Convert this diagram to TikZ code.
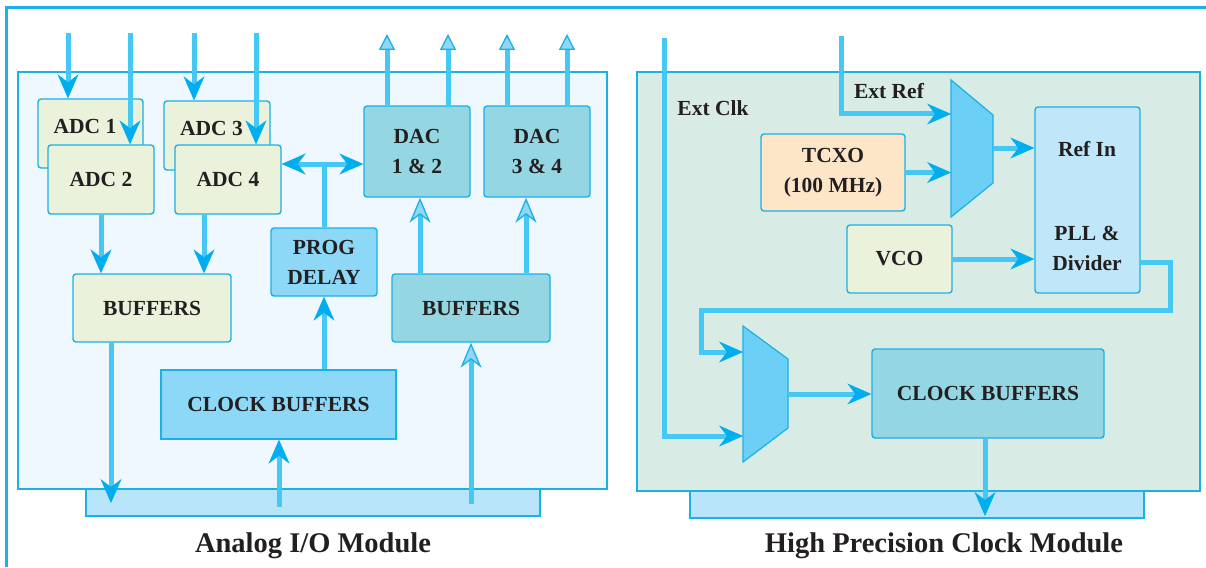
\documentclass[tikz,border=0pt]{standalone}
\usepackage{fontspec}
\setmainfont{Liberation Serif}
\usetikzlibrary{arrows.meta}

\definecolor{linecyan}{HTML}{45C8F3}
\definecolor{headcyan}{HTML}{00AEEF}
\definecolor{edgecyan}{HTML}{1BB0E8}
\definecolor{panelblue}{HTML}{EFF8FE}
\definecolor{panelgreen}{HTML}{D8ECE5}
\definecolor{busblue}{HTML}{B8E5F9}
\definecolor{adcgreen}{HTML}{EBF2DC}
\definecolor{dacteal}{HTML}{94D7E3}
\definecolor{clkblue}{HTML}{8DD8F6}
\definecolor{pllblue}{HTML}{BFE7F9}
\definecolor{tcxopeach}{HTML}{FDE5C7}
\definecolor{muxblue}{HTML}{6CCFF6}
\definecolor{openhead}{HTML}{8ED8F6}
\definecolor{inkdark}{HTML}{231F20}

\newcommand{\boxfont}{\fontsize{21.5}{30}\selectfont\bfseries}
\newcommand{\titlefont}{\fontsize{28.5}{30}\selectfont\bfseries}

\tikzset{
  blk/.style={draw=edgecyan, line width=1.4pt, rounded corners=3pt, text=inkdark,
    font=\boxfont, align=center, inner sep=0pt},
  panel/.style={draw=edgecyan, line width=1.4pt, inner sep=0pt},
  txt/.style={text=inkdark, font=\boxfont, align=center, inner sep=0pt},
  sig/.style={draw=linecyan, line width=5pt},
  sigarrow/.style={sig, -{Stealth[length=24pt, width=21pt, inset=8pt, line width=0.5pt, color=headcyan]}},
  sigboth/.style={sig, {Stealth[length=24pt, width=21pt, inset=8pt, line width=0.5pt, color=headcyan]}-{Stealth[length=24pt, width=21pt, inset=8pt, line width=0.5pt, color=headcyan]}},
  sigopen/.style={sig, -{Stealth[length=25pt, width=21pt, inset=8pt, line width=1.3pt, color=edgecyan, fill=openhead]}},
  sigout/.style={sig, -{Triangle[length=16pt, width=16pt, line width=1.3pt, color=edgecyan, fill=openhead]}},
  muxshape/.style={draw=edgecyan, line width=1.2pt, fill=muxblue},
}

\begin{document}
\begin{tikzpicture}[x=1pt, y=-1pt]
\useasboundingbox (0,0) rectangle (1206,567);

\draw[edgecyan, line width=3pt] (1206,8) -- (6,8) -- (6,567);

% Analog I/O module
\node[panel, fill=busblue, minimum width=454, minimum height=27] (busl) at (313,502.5) {};
\node[panel, fill=panelblue, minimum width=589, minimum height=417] (panl) at (312.5,280.5) {};

\node[blk, fill=adcgreen, minimum width=105, minimum height=69] (adc1) at (90.5,133.5) {};
\node[txt] (adc1t) at (85,126.5) {ADC 1};
\node[blk, fill=adcgreen, minimum width=106, minimum height=69] (adc3) at (217,135.5) {};
\node[txt] (adc3t) at (211.5,128) {ADC 3};

\coordinate (in1) at (68,33);
\coordinate (in2) at (130,33);
\coordinate (in3) at (194,33);
\coordinate (in4) at (256,33);
\draw[sigarrow] (in1) -- (in1 |- adc1.north);
\draw[sigarrow] (in3) -- (in3 |- adc3.north);

\node[blk, fill=adcgreen, minimum width=106, minimum height=69] (adc2) at (101,179.5) {ADC 2};
\node[blk, fill=adcgreen, minimum width=106, minimum height=69] (adc4) at (228,179.5) {ADC 4};

\draw[sigarrow] (in2) -- (in2 |- adc2.north);
\draw[sigarrow] (in4) -- (in4 |- adc4.north);

\node[blk, fill=dacteal, minimum width=106, minimum height=91] (dac12) at (417,151.5) {DAC\\1 \& 2};
\node[blk, fill=dacteal, minimum width=106, minimum height=91] (dac34) at (537,151.5) {DAC\\3 \& 4};
\node[blk, fill=clkblue, minimum width=106, minimum height=68] (prog) at (324,262) {PROG\\DELAY};
\node[blk, fill=adcgreen, minimum width=158, minimum height=68] (bufl) at (152,308) {BUFFERS};
\node[blk, fill=dacteal, minimum width=158, minimum height=68] (bufr) at (471,308) {BUFFERS};
\node[blk, fill=clkblue, rounded corners=0pt, minimum width=235, minimum height=69] (cbl) at (278.5,404.5) {CLOCK BUFFERS};

\coordinate (out1) at (387,34);
\coordinate (out2) at (448,34);
\coordinate (out3) at (507,34);
\coordinate (out4) at (567,34);
\draw[sigout] (out1 |- dac12.north) -- (out1);
\draw[sigout] (out2 |- dac12.north) -- (out2);
\draw[sigout] (out3 |- dac34.north) -- (out3);
\draw[sigout] (out4 |- dac34.north) -- (out4);

\coordinate (tee) at (324,164);
\draw[sigboth] (tee -| adc4.east) -- (tee -| dac12.west);
\draw[sig] (tee) -- (prog.north);

\coordinate (adc4out) at ([xshift=-24pt]adc4.south);
\draw[sigarrow] (adc2.south) -- (adc2.south |- bufl.north);
\draw[sigarrow] (adc4out) -- (adc4out |- bufl.north);

\coordinate (tap1) at (111,503);
\coordinate (tap2) at (279,507);
\coordinate (tap3) at (471,504);
\draw[sigarrow] (tap1 |- bufl.south) -- (tap1);
\draw[sigarrow] (tap2) -- (tap2 |- cbl.south);
\draw[sigarrow] (prog.south |- cbl.north) -- (prog.south);
\draw[sigopen] (tap3) -- (bufr.south);

\coordinate (dacin1) at ([xshift=3pt]dac12.south);
\coordinate (dacin2) at ([xshift=-11pt]dac34.south);
\draw[sigopen] (dacin1 |- bufr.north) -- (dacin1);
\draw[sigopen] (dacin2 |- bufr.north) -- (dacin2);

\node[font=\titlefont, text=inkdark, anchor=base] (ttlleft) at (313,552) {Analog I/O Module};

% High precision clock module
\node[panel, fill=busblue, minimum width=454, minimum height=27] (busr) at (917,504.5) {};
\node[panel, fill=panelgreen, minimum width=563, minimum height=419] (panr) at (918.5,281.5) {};

\node[txt, anchor=base] (clklbl) at (713,116) {Ext Clk};
\node[txt, anchor=base] (reflbl) at (889,99) {Ext Ref};

\node[blk, fill=tcxopeach, minimum width=144, minimum height=77] (tcxo) at (833,172.5) {TCXO\\(100 MHz)};
\node[blk, fill=pllblue, minimum width=105, minimum height=186] (pll) at (1087.5,200) {};
\node[txt] (refin) at (1087,149) {Ref In};
\node[txt] (plldiv) at (1087,248) {PLL \&\\Divider};
\node[blk, fill=adcgreen, minimum width=105, minimum height=68] (vco) at (899.5,259) {VCO};
\node[blk, fill=dacteal, minimum width=232, minimum height=89] (cbr) at (988,393.5) {CLOCK BUFFERS};

\draw[muxshape] (951,80) coordinate (m1tl) -- (993,115) -- (993,183) -- (951,217) -- cycle;
\draw[muxshape] (743,326) coordinate (m2tl) -- (788,359) -- (788,428) -- (743,462) -- cycle;

\coordinate (extclk) at (664,38);
\coordinate (extref) at (841,36);
\coordinate (m1in) at (951,114);
\coordinate (m1out) at (993,148);
\coordinate (m2in1) at (743,352);
\coordinate (m2in2) at (743,436);
\coordinate (m2out) at (788,394);
\coordinate (pllout) at (1140,262);
\coordinate (loopr) at (1170,310);
\coordinate (loopl) at (701,352);
\coordinate (tap4) at (985,516);

\draw[sigarrow] (extref) |- (m1in);
\draw[sigarrow] (tcxo.east) -- (tcxo.east -| m1tl);
\draw[sigarrow] (m1out) -- (m1out -| pll.west);
\draw[sigarrow] (vco.east) -- (vco.east -| pll.west);
\draw[sigarrow] (pllout) -| (loopr) -| (loopl) -- (m2in1);
\draw[sigarrow] (extclk) |- (m2in2);
\draw[sigarrow] (m2out) -- (m2out -| cbr.west);
\draw[sigarrow] (tap4 |- cbr.south) -- (tap4);

\node[font=\titlefont, text=inkdark, anchor=base] (ttlright) at (944,552) {High Precision Clock Module};

\end{tikzpicture}
\end{document}
